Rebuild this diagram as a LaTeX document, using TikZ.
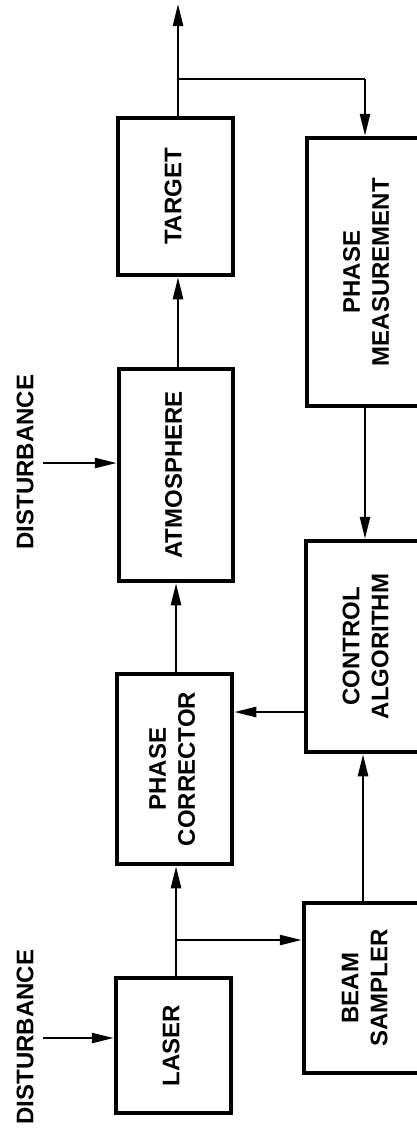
\documentclass[tikz,border=0pt]{standalone}
\usepackage{fontspec}
\setmainfont{Liberation Sans}
\usetikzlibrary{arrows.meta}
\newcommand\rottext[1]{\rotatebox{90}{\begin{tabular}{@{}c@{}}#1\end{tabular}}}
\begin{document}
\begin{tikzpicture}[x=1pt,y=-1pt,
  blk/.style={draw,line width=4.5pt,inner sep=0pt,fill=white,
    font=\fontsize{24}{29}\selectfont\bfseries},
  conn/.style={line width=2.5pt,-{Triangle[length=22pt,width=10pt]}},
  lbl/.style={inner sep=0pt,rotate=90,font=\fontsize{24}{29}\selectfont\bfseries}]
\useasboundingbox (0,0) rectangle (417,1128);
% main chain
\node[blk,minimum width=115pt,minimum height=157pt] (target) at (175.5,196.5) {\rottext{TARGET}};
\node[blk,minimum width=114pt,minimum height=212pt] (atm) at (176,475) {\rottext{ATMOSPHERE}};
\node[blk,minimum width=115pt,minimum height=190pt] (pc) at (174.5,769) {\rottext{PHASE\\CORRECTOR}};
\node[blk,minimum width=115pt,minimum height=135pt] (laser) at (173.5,1045.5) {\rottext{LASER}};
% right column (cut by the page edge)
\node[blk,minimum width=123pt,minimum height=268pt] (pm) at (368.5,272) {\rottext{PHASE\\MEASUREMENT}};
\node[blk,minimum width=124pt,minimum height=211pt] (ca) at (368,646.5) {\rottext{CONTROL\\ALGORITHM}};
\node[blk,minimum width=126pt,minimum height=170pt] (bs) at (367,988) {\rottext{BEAM\\SAMPLER}};
% disturbance labels
\node[lbl] (d1) at (25,462) {DISTURBANCE};
\node[lbl] (d2) at (25,1037) {DISTURBANCE};
% coordinates
\coordinate (out) at (178,4);
\coordinate (b1) at (178,79);
\coordinate (b1r) at (365,79);
\coordinate (b2) at (176,940);
\coordinate (ds1) at (43,463);
\coordinate (ds2) at (43,1038);
% connectors
\draw[conn] (target.north -| out) -- (out);
\draw[line width=2.5pt] (b1) -- (b1r);
\draw[conn] (b1r) -- (b1r |- pm.north);
\draw[conn] (atm.north -| out) -- (target.south -| out);
\draw[conn] (pm.south -| b1r) -- (ca.north -| b1r);
\draw[conn] (pc.north -| 176,0) -- (atm.south -| 176,0);
\draw[conn] (ca.west |- 0,712) -- (pc.east |- 0,712);
\draw[conn] (bs.north -| 363,0) -- (ca.south -| 363,0);
\draw[conn] (laser.north -| b2) -- (pc.south -| b2);
\draw[conn] (b2) -- (b2 -| bs.west);
\draw[conn] (ds1) -- (ds1 -| atm.west);
\draw[conn] (ds2) -- (ds2 -| laser.west);
\end{tikzpicture}
\end{document}
